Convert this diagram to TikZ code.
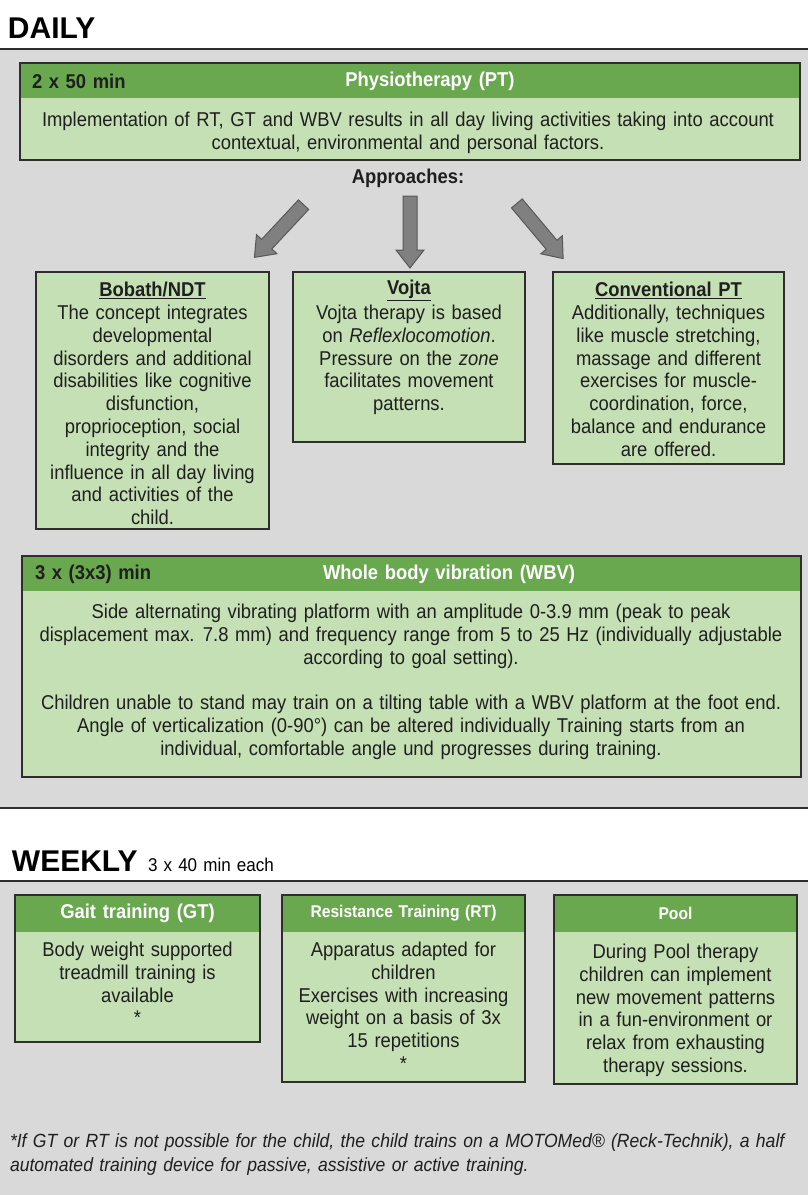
\documentclass[tikz,border=0pt]{standalone}
\usepackage{fontspec}
\setmainfont[FakeStretch=0.92, WordSpace=1.3]{Liberation Sans}
\newfontfamily\widefont{Liberation Sans}
\definecolor{bg}{HTML}{D9D9D9}
\definecolor{hdrgreen}{HTML}{6AA84F}
\definecolor{bodygreen}{HTML}{C5E0B4}
\definecolor{arrowgray}{HTML}{808080}
\definecolor{edge}{HTML}{2E2E2E}
\begin{document}
\begin{tikzpicture}[x=1pt,y=-1pt,
  every node/.style={inner sep=0pt, outer sep=0pt},
  sepline/.style={draw=edge, line width=1.2pt},
  hdrfill/.style={fill=hdrgreen},
  bodyfill/.style={fill=bodygreen},
  boxedge/.style={draw=edge, line width=1.2pt},
  bodytext/.style={font=\fontsize{20}{22.8}\selectfont, align=center, text=black!88, anchor=north},
  hdrtext/.style={font=\bfseries\fontsize{20}{22}\selectfont, text=white},
  timetext/.style={font=\bfseries\fontsize{20}{22}\selectfont, text=black!88, anchor=west},
  titletext/.style={font=\bfseries\fontsize{20}{22}\selectfont, text=black!88},
  blockarrow/.style={fill=arrowgray, draw=edge!80, line width=1pt, line join=miter},
  sectiontext/.style={font=\widefont\bfseries\fontsize{30}{32}\selectfont, anchor=base west},
]
\useasboundingbox (0,0) rectangle (808,1195);
\fill[white] (0,0) rectangle (808,1195);
% backgrounds
\fill[bg] (0,49) rectangle (808,808);
\fill[bg] (0,881) rectangle (808,1195);
\draw[sepline] (0,49) -- (808,49);
\draw[sepline] (0,808) -- (808,808);
\draw[sepline] (0,881) -- (808,881);

% section titles
\node[sectiontext] (daily) at (8,38) {DAILY};
\node[sectiontext] (weekly) at (12,871) {WEEKLY};
\node[font=\fontsize{18.5}{20}\selectfont, anchor=base west] (weeklysub) at (148,871) {3 x 40 min each};

% PT box
\fill[hdrfill] (20,63) rectangle (800,98);
\fill[bodyfill] (20,98) rectangle (800,160);
\draw[boxedge] (20,63) rectangle (800,160);
\node[timetext] (pttime) at (32,81) {2 x 50 min};
\node[hdrtext] (pthead) at (430,81) {Physiotherapy (PT)};
\node[bodytext] (ptbody) at (408,112) {Implementation of RT, GT and WBV results in all day living activities taking into account\\contextual, environmental  and personal factors.};

\node[titletext] (appr) at (408,178) {Approaches:};

% block arrows
\draw[blockarrow, shift={(279,231)}, rotate=227]
  (-36,-7) -- (18,-7) -- (18,-14) -- (36,0) -- (18,14) -- (18,7) -- (-36,7) -- cycle;
\draw[blockarrow, shift={(410,232)}, rotate=-90]
  (-36,-7) -- (18,-7) -- (18,-14) -- (36,0) -- (18,14) -- (18,7) -- (-36,7) -- cycle;
\draw[blockarrow, shift={(540,231)}, rotate=-50]
  (-36,-7) -- (18,-7) -- (18,-14) -- (36,0) -- (18,14) -- (18,7) -- (-36,7) -- cycle;

% approach boxes
\fill[bodyfill] (36,272) rectangle (269,529);
\draw[boxedge] (36,272) rectangle (269,529);
\node[titletext] (bobtitle) at (152.5,290) {\underline{Bobath/NDT}};
\node[bodytext] (bobbody) at (152.5,305) {The concept integrates\\developmental\\disorders and additional\\disabilities like cognitive\\disfunction,\\proprioception, social\\integrity and the\\influence in all day living\\and activities of the\\child.};

\fill[bodyfill] (293,272) rectangle (525,442);
\draw[boxedge] (293,272) rectangle (525,442);
\node[titletext] (vojtitle) at (409,290) {\underline{Vojta}};
\node[bodytext] (vojbody) at (409,305) {Vojta therapy is based\\on \textit{Reflexlocomotion}.\\Pressure on the \textit{zone}\\facilitates movement\\patterns.};

\fill[bodyfill] (553,272) rectangle (784,464);
\draw[boxedge] (553,272) rectangle (784,464);
\node[titletext] (convtitle) at (668.5,290) {\underline{Conventional PT}};
\node[bodytext] (convbody) at (668.5,305) {Additionally, techniques\\like muscle stretching,\\massage and different\\exercises for muscle-\\coordination, force,\\balance and endurance\\are offered.};

% WBV box
\fill[hdrfill] (22,556) rectangle (801,591);
\fill[bodyfill] (22,591) rectangle (801,777);
\draw[boxedge] (22,556) rectangle (801,777);
\node[timetext] (wbvtime) at (35,574) {3 x (3x3) min};
\node[hdrtext] (wbvhead) at (449,574) {Whole body vibration (WBV)};
\node[bodytext] (wbvbody1) at (411,604) {Side alternating vibrating platform with an amplitude 0-3.9 mm (peak to peak\\displacement max. 7.8 mm) and frequency range from 5 to 25 Hz (individually  adjustable\\according to goal setting).};
\node[bodytext] (wbvbody2) at (411,695) {Children  unable to stand may train on a tilting table with a WBV platform at the foot end.\\Angle of verticalization  (0-90°)  can be altered individually  Training  starts from an\\individual,  comfortable angle und progresses  during training.};

% weekly boxes
\fill[hdrfill] (15,895) rectangle (260,932);
\fill[bodyfill] (15,932) rectangle (260,1042);
\draw[boxedge] (15,895) rectangle (260,1042);
\node[hdrtext] (gthead) at (137.5,913) {Gait training (GT)};
\node[bodytext] (gtbody) at (137.5,942) {Body weight supported\\treadmill training is\\available\\*};

\fill[hdrfill] (282,895) rectangle (525,932);
\fill[bodyfill] (282,932) rectangle (525,1082);
\draw[boxedge] (282,895) rectangle (525,1082);
\node[hdrtext, font=\bfseries\fontsize{17}{20}\selectfont] (rthead) at (403.5,913) {Resistance Training (RT)};
\node[bodytext] (rtbody) at (403.5,942) {Apparatus adapted for\\children\\Exercises with increasing\\weight on a basis of 3x\\15 repetitions\\*};

\fill[hdrfill] (554,895) rectangle (797,932);
\fill[bodyfill] (554,932) rectangle (797,1084);
\draw[boxedge] (554,895) rectangle (797,1084);
\node[hdrtext, font=\bfseries\fontsize{17}{20}\selectfont] (poolhead) at (675.5,913) {Pool};
\node[bodytext] (poolbody) at (675.5,944) {During Pool therapy\\children can implement\\new movement  patterns\\in a fun-environment  or\\relax from  exhausting\\therapy sessions.};

% footnote
\node[font=\itshape\fontsize{19.1}{24}\selectfont, align=left, anchor=north west, text=black!88] (foot) at (10,1134) {*If GT or RT is not possible for the child, the child trains on a MOTOMed® (Reck-Technik), a half\\automated training device for passive, assistive or active training.};
\end{tikzpicture}
\end{document}
